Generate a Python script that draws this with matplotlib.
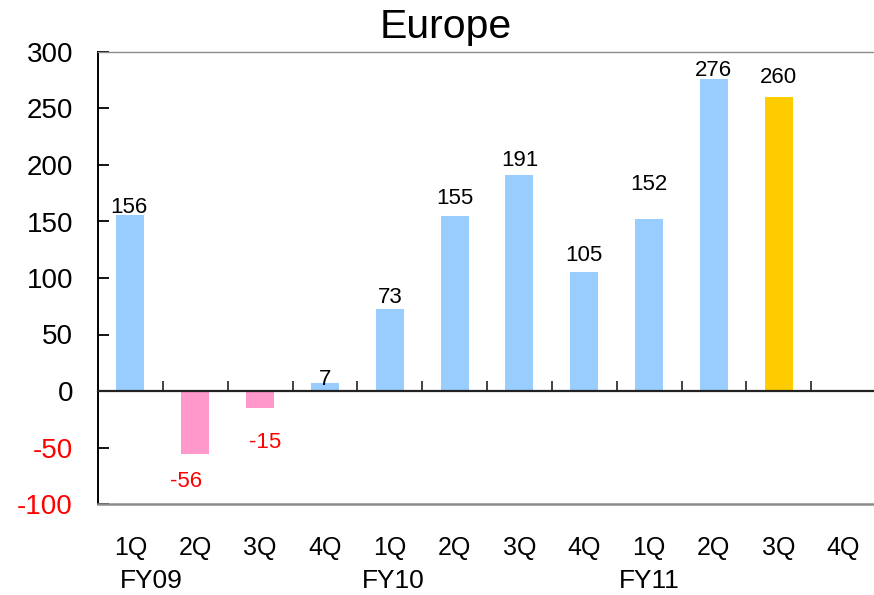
import matplotlib
matplotlib.use("Agg")
import matplotlib.pyplot as plt
from matplotlib.transforms import blended_transform_factory

plt.rcParams["font.family"] = ["Liberation Sans", "DejaVu Sans"]

# Quarterly figures for Europe
quarters = ["1Q", "2Q", "3Q", "4Q", "1Q", "2Q", "3Q", "4Q", "1Q", "2Q", "3Q", "4Q"]
values = [156, -56, -15, 7, 73, 155, 191, 105, 152, 276, 260, None]
fiscal_years = ["FY09", "FY10", "FY11"]
y_ticks = [-100, -50, 0, 50, 100, 150, 200, 250, 300]

# styling
BLUE, PINK, GOLD = "#99CCFF", "#FF99CC", "#FFCC00"
highlight = 10                      # latest quarter drawn in gold
fy_x = [0.83, 4.56, 8.51]           # x positions of the fiscal-year captions
# per-label nudges (pixels) for the value captions
label_dx = [-2, -9.5, 5.5, 0, 0, 0, 0, 0, 0, 0, 0, 0]
label_dy = [2, -33, -40, -2, 6, 12, 9, 11, 29, 3, 14, 0]

W, H = 874, 595
fig = plt.figure(figsize=(W / 100, H / 100), dpi=100)
ax = fig.add_axes([98 / W, (H - 504) / H, 778 / W, 452 / H])

xs = [i + 0.5 for i in range(len(quarters))]
for i, (x, v) in enumerate(zip(xs, values)):
    if v is None:
        continue
    color = GOLD if i == highlight else (PINK if v < 0 else BLUE)
    ax.bar(x, v, width=0.43, color=color, zorder=2)
    ax.annotate(str(v), xy=(x, v), xytext=(label_dx[i], label_dy[i]),
                textcoords="offset pixels", ha="center", va="baseline",
                fontsize=16, color="red" if v < 0 else "black")

ax.set_xlim(0, len(quarters))
ax.set_ylim(y_ticks[0], y_ticks[-1])

# frame: black left spine and zero line, grey top/bottom borders
ax.spines["right"].set_visible(False)
ax.spines["left"].set_color("black")
ax.spines["left"].set_linewidth(1.4)
ax.spines["bottom"].set_position(("data", 0))
ax.spines["bottom"].set_color("#222222")
ax.spines["bottom"].set_linewidth(1.6)
ax.spines["top"].set_color("#8c8c8c")
ax.spines["top"].set_linewidth(1.0)
ax.axhline(y_ticks[0], color="#8c8c8c", lw=1.8, clip_on=False, zorder=3)

ax.set_xticks(range(1, len(quarters)))
ax.tick_params(axis="x", direction="in", length=7, width=1.2,
               color="#222222", labelbottom=False)
ax.set_yticks(y_ticks)
ax.set_yticklabels([str(t) for t in y_ticks])
ax.tick_params(axis="y", direction="in", length=8, width=1.3, pad=18,
               labelsize=20)
for lbl, t in zip(ax.get_yticklabels(), y_ticks):
    lbl.set_color("red" if t < 0 else "black")

# category captions beneath the plot
trans = blended_transform_factory(ax.transData, fig.transFigure)
for x, q in zip(xs, quarters):
    ax.text(x, (H - 555) / H, q, transform=trans, ha="center",
            va="baseline", fontsize=18)
for x, fy in zip(fy_x, fiscal_years):
    ax.text(x, (H - 588) / H, fy, transform=trans, ha="center",
            va="baseline", fontsize=19)

fig.text(446 / W, (H - 38) / H, "Europe", ha="center", va="baseline",
         fontsize=29.5)

fig.savefig("out.png", dpi=100)
